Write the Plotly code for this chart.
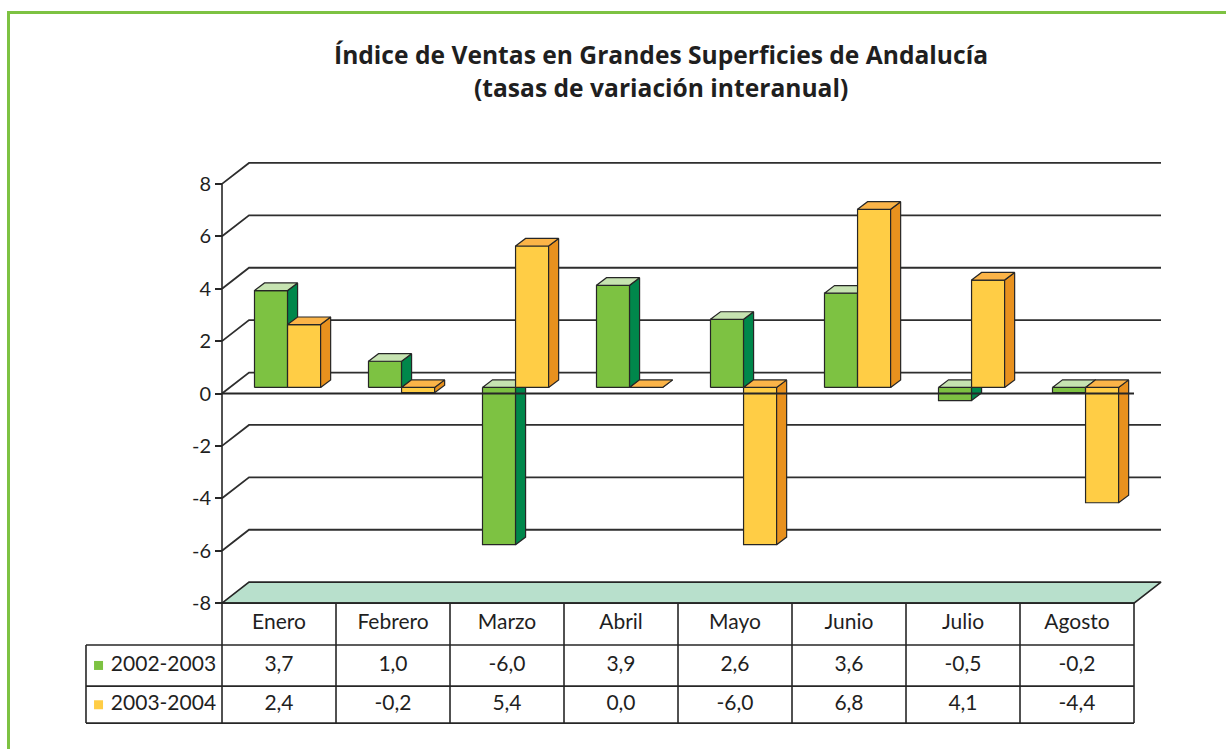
import plotly.graph_objects as go

# ---------------- data ----------------
categories = ["Enero", "Febrero", "Marzo", "Abril", "Mayo", "Junio", "Julio", "Agosto"]
series_names = ["2002-2003", "2003-2004"]
values_2002_2003 = [3.7, 1.0, -6.0, 3.9, 2.6, 3.6, -0.5, -0.2]
values_2003_2004 = [2.4, -0.2, 5.4, 0.0, -6.0, 6.8, 4.1, -4.4]
y_ticks = [-8, -6, -4, -2, 0, 2, 4, 6, 8]
y_tick_labels = ["-8", "-6", "-4", "-2", "0", "2", "4", "6", "8"]
title_line1 = "Índice de Ventas en Grandes Superficies de Andalucía"
title_line2 = "(tasas de variación interanual)"

# ---------------- style / geometry ----------------
W, H = 1226, 749
FONT = "Lato"
TITLE_FONT = "Open Sans"
TXT = "#1f1f1f"
LINE = "#262626"
FACE = {
    0: dict(front="#7dc242", side="#00874b", top="#c6e3b1"),
    1: dict(front="#ffcd45", side="#e8911e", top="#fbb448"),
}
FLOOR = "#b8e0cc"
BORDER = "#7dc242"

# pixel mapping of the data space
PX_X0 = 222.0       # pixel of x = 0 (front axis)
PX_PER_X = 114.0    # pixels per category
PX_Y0 = 393.5       # pixel of y = 0 (front plane)
PX_PER_Y = 26.2     # pixels per unit

X_RANGE = [-1.3333, 8.3]
Y_RANGE = [-12.85, 8.9]

D_X, D_Y = 0.237, 0.80          # depth of the back wall (data units)
GROUP_LEFT = 0.285              # left edge of first bar within category
BAR_W = 0.29
BAR_DX, BAR_DY = 0.088, 0.29    # bar depth
BASE = 0.23                     # baseline of bar front faces (depth shift)

ROW_Y = [-8.0, -9.6, -11.17, -12.58]      # table row boundaries
ROW_MID = [-8.80, -10.38, -11.88]
TABLE_LEFT = -1.193
KEY_X = -1.083
KEY_TEXT_X = -0.975

n = len(categories)


def px_x(v):
    return PX_X0 + (v) * PX_PER_X


def px_y(v):
    return PX_Y0 - v * PX_PER_Y


dom_x = [px_x(X_RANGE[0]) / W, px_x(X_RANGE[1]) / W]
dom_y = [1 - px_y(Y_RANGE[0]) / H, 1 - px_y(Y_RANGE[1]) / H]

fig = go.Figure()


def add_lines(xs, ys, width=1.6, color=LINE):
    fig.add_trace(go.Scatter(x=xs, y=ys, mode="lines", hoverinfo="skip",
                             line=dict(color=color, width=width), showlegend=False))


def add_polys(polys, fill, width=1.2):
    xs, ys = [], []
    for p in polys:
        for (a, b) in p:
            xs.append(a)
            ys.append(b)
        xs.append(p[0][0])
        ys.append(p[0][1])
        xs.append(None)
        ys.append(None)
    fig.add_trace(go.Scatter(x=xs, y=ys, mode="lines", fill="toself", fillcolor=fill,
                             line=dict(color=LINE, width=width), hoverinfo="skip",
                             showlegend=False))


# back wall gridlines with diagonals
gx, gy = [], []
for v in y_ticks:
    if v == y_ticks[0]:
        continue
    gx += [0, D_X, n + D_X, None]
    gy += [v, v + D_Y, v + D_Y, None]
add_lines(gx, gy, width=1.8, color="#2e2e2e")

# floor
add_polys([[(0, y_ticks[0]), (n, y_ticks[0]), (n + D_X, y_ticks[0] + D_Y), (D_X, y_ticks[0] + D_Y)]],
          FLOOR, width=1.6)

# bars
all_series = [values_2002_2003, values_2003_2004]
for s, vals in enumerate(all_series):
    fronts, sides, tops = [], [], []
    for i, v in enumerate(vals):
        x0 = i + GROUP_LEFT + s * BAR_W
        x1 = x0 + BAR_W
        b = BASE
        fronts.append([(x0, b), (x1, b), (x1, b + v), (x0, b + v)])
        sides.append([(x1, b), (x1 + BAR_DX, b + BAR_DY), (x1 + BAR_DX, b + v + BAR_DY), (x1, b + v)])
        t = b + max(v, 0)
        tops.append([(x0, t), (x1, t), (x1 + BAR_DX, t + BAR_DY), (x0 + BAR_DX, t + BAR_DY)])
    add_polys(fronts, FACE[s]["front"])
    add_polys(sides, FACE[s]["side"])
    add_polys(tops, FACE[s]["top"])

# front zero line
add_lines([0, n], [0, 0], width=1.8)

# vertical axis line (continues through table)
add_lines([0, 0], [y_ticks[-1], ROW_Y[-1]], width=1.6)

# table grid
tx, ty = [], []
for k, r in enumerate(ROW_Y):
    left = 0 if k == 0 else TABLE_LEFT
    tx += [left, n, None]
    ty += [r, r, None]
for i in range(1, n + 1):
    tx += [i, i, None]
    ty += [ROW_Y[0], ROW_Y[-1], None]
tx += [TABLE_LEFT, TABLE_LEFT, None]
ty += [ROW_Y[1], ROW_Y[-1], None]
add_lines(tx, ty, width=1.6)

# table header text
cx = [i + 0.5 for i in range(n)]
fig.add_trace(go.Scatter(x=cx, y=[ROW_MID[0]] * n, mode="text", text=categories,
                         textfont=dict(family=FONT, size=21, color=TXT),
                         hoverinfo="skip", showlegend=False, cliponaxis=False))


def fmt(v):
    return f"{v:.1f}".replace(".", ",")


for s, vals in enumerate(all_series):
    fig.add_trace(go.Scatter(x=cx, y=[ROW_MID[s + 1]] * n, mode="text",
                             text=[fmt(v) for v in vals],
                             textfont=dict(family=FONT, size=21, color=TXT),
                             hoverinfo="skip", showlegend=False, cliponaxis=False))
    fig.add_trace(go.Scatter(x=[KEY_X], y=[ROW_MID[s + 1]], mode="markers",
                             marker=dict(symbol="square", size=9, color=FACE[s]["front"]),
                             hoverinfo="skip", showlegend=False, cliponaxis=False))
    fig.add_trace(go.Scatter(x=[KEY_TEXT_X], y=[ROW_MID[s + 1]], mode="text",
                             text=[series_names[s]], textposition="middle right",
                             textfont=dict(family=FONT, size=21, color=TXT),
                             hoverinfo="skip", showlegend=False, cliponaxis=False))

fig.update_layout(
    width=W, height=H,
    margin=dict(l=0, r=0, t=0, b=0),
    paper_bgcolor="white", plot_bgcolor="rgba(0,0,0,0)",
    showlegend=False,
    xaxis=dict(range=X_RANGE, domain=dom_x, visible=False, fixedrange=True),
    yaxis=dict(range=Y_RANGE, domain=dom_y, anchor="free", position=PX_X0 / W,
               tickvals=y_ticks, ticktext=y_tick_labels, ticks="outside", ticklen=7,
               tickwidth=1.6, tickcolor=LINE, showgrid=False, zeroline=False,
               showline=False, tickfont=dict(family=FONT, size=20, color=TXT),
               fixedrange=True),
    shapes=[dict(type="rect", xref="paper", yref="paper",
                 x0=8.5 / W, y0=-0.1, x1=1.1, y1=1 - 12.5 / H,
                 line=dict(color=BORDER, width=3), layer="below")],
    annotations=[
        dict(text="<b>" + title_line1 + "</b>", xref="paper", yref="paper",
             x=661 / W, y=1 - 55 / H, xanchor="center", yanchor="middle", showarrow=False,
             font=dict(family=TITLE_FONT, size=24.6, color=TXT)),
        dict(text="<b>" + title_line2 + "</b>", xref="paper", yref="paper",
             x=661 / W, y=1 - 87 / H, xanchor="center", yanchor="middle", showarrow=False,
             font=dict(family=TITLE_FONT, size=24.6, color=TXT)),
    ],
)

fig.write_html("out.html", config={"displayModeBar": False},
               post_script="document.body.style.margin='0';")
